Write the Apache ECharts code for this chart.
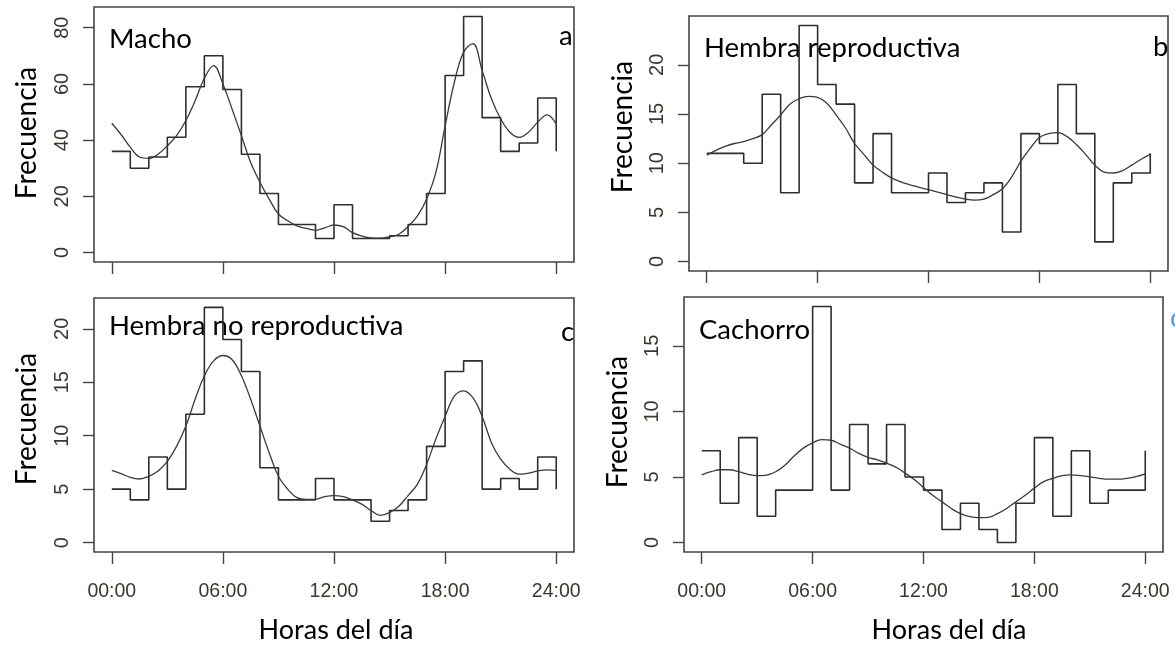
<!DOCTYPE html>
<html>
<head>
<meta charset="utf-8">
<script src="https://cdn.jsdelivr.net/npm/echarts@6/dist/echarts.min.js"></script>
<style>
html,body{margin:0;padding:0;background:#fff;}
#chart{width:1175px;height:649px;}
</style>
</head>
<body>
<div id="chart"></div>
<script>
// ---- Data ----
const stepHours = [0,1,2,3,4,5,6,7,8,9,10,11,12,13,14,15,16,17,18,19,20,21,22,23,24];
// hourly frequencies (last value = closing point drawn at 24:00)
const machoCounts      = [36,30,34,41,59,70,58,35,21,10,10,5,17,5,5,6,10,21,63,84,48,36,39,55,36];
const hembraRepCounts  = [11,11,10,17,7,24,18,16,8,13,7,7,9,6,7,8,3,13,12,18,13,2,8,9,11];
const hembraNoRepCounts= [5,4,8,5,12,22,19,16,7,4,4,6,4,4,2,3,4,9,16,17,5,6,5,8,5];
const cachorroCounts   = [7,3,8,2,4,4,18,4,9,6,9,5,4,1,3,1,0,3,8,2,7,3,4,4,7];

const curveHours = [0,0.5,1,1.5,2,2.5,3,3.5,4,4.5,5,5.5,6,6.5,7,7.5,8,8.5,9,9.5,10,10.5,11,11.5,12,12.5,13,13.5,14,14.5,15,15.5,16,16.5,17,17.5,18,18.5,19,19.5,20,20.5,21,21.5,22,22.5,23,23.5,24];
const machoCurve = [46,42,37.5,34,33.5,35,38,41.6,47,54,62,66.5,60,51,41.6,32,25,19,13.7,11.3,9.5,8.6,7.9,8.8,9.8,9.2,7.1,5.9,5.2,5.1,5.6,6.5,9.3,13,19,28.5,45,60.6,71.3,74.3,64.8,54.7,47.6,42.8,41,42.8,46.4,49,45.8];
const hembraRepCurve = [10.8,11.3,11.7,12,12.2,12.5,12.9,13.9,14.9,16,16.55,16.8,16.7,16.1,14.9,13.6,12,10.9,9.8,9.1,8.5,8.1,7.8,7.55,7.3,7.05,6.8,6.55,6.35,6.25,6.35,6.8,7.4,8.6,10.2,11.5,12.6,13,13.1,12.7,11.9,10.9,9.8,9.1,9.0,9.25,9.8,10.4,10.9];
const hembraNoRepCurve = [6.76,6.45,6.1,5.95,6.2,6.7,7.6,9,10.9,13.4,15.6,17,17.5,17.1,15.6,13.4,10.9,8.4,6.2,5,4.2,4.05,4.05,4.3,4.4,4.3,4.0,3.6,3.0,2.55,2.8,3.4,4.4,5.45,7.3,9.7,11.8,13.7,14.2,13.55,11.8,9.35,7.8,6.85,6.4,6.5,6.7,6.8,6.76];
const cachorroCurve = [5.16,5.4,5.55,5.55,5.4,5.2,5.1,5.14,5.4,5.9,6.6,7.2,7.6,7.85,7.8,7.5,7.2,6.8,6.5,6.3,6.05,5.75,5.3,4.8,4.2,3.6,3.1,2.6,2.2,1.97,1.9,1.92,2.2,2.6,3.1,3.6,4.15,4.65,4.9,5.1,5.16,5.1,5.0,4.9,4.83,4.83,4.9,5.03,5.24];

const xTicks = [0,6,12,18,24];
const xTickLabels = ['00:00','06:00','12:00','18:00','24:00'];
const yTicksA = [0,20,40,60,80];
const yTicksB = [0,5,10,15,20];
const yTicksC = [0,5,10,15,20];
const yTicksD = [0,5,10,15];

const panelNames = ['Macho','Hembra reproductiva','Hembra no reproductiva','Cachorro'];
const panelLetters = ['a','b','c','d'];
const yTitle = 'Frecuencia';
const xTitle = 'Horas del día';

// ---- Layout / style ----
const grids = [
  {left:94, top:7, width:480, height:255},
  {left:689, top:16, width:479, height:255},
  {left:94, top:298, width:480, height:254},
  {left:684, top:297, width:479, height:255}
];
const yRanges = [[-3.36,87.36],[-0.96,24.96],[-0.88,22.88],[-0.72,18.72]];
const yTickSets = [yTicksA,yTicksB,yTicksC,yTicksD];
const stepSets = [machoCounts,hembraRepCounts,hembraNoRepCounts,cachorroCounts];
const curveSets = [machoCurve,hembraRepCurve,hembraNoRepCurve,cachorroCurve];

const tickFont = "'Liberation Sans Narrow','Liberation Sans',sans-serif";
const tickColor = '#3d362e';
const lineColor = '#2e2e2e';

const xAxes = grids.map((g,i)=>({
  type:'value', gridIndex:i, min:-0.96, max:24.96, position:'bottom',
  axisLine:{show:false, onZero:false},
  splitLine:{show:false},
  axisTick:{show:true, inside:false, length:12, customValues:xTicks, lineStyle:{color:'#444',width:1.4}},
  axisLabel:{show:i>=2, customValues:xTicks, margin:30, fontFamily:tickFont, fontSize:19.5, color:tickColor,
    formatter:(v)=>xTickLabels[xTicks.indexOf(v)]}
}));
const yAxes = grids.map((g,i)=>({
  type:'value', gridIndex:i, min:yRanges[i][0], max:yRanges[i][1], position:'left',
  axisLine:{show:false, onZero:false},
  splitLine:{show:false},
  axisTick:{show:true, inside:false, length:11, customValues:yTickSets[i], lineStyle:{color:'#444',width:1.4}},
  axisLabel:{show:true, customValues:yTickSets[i], rotate:90, margin:22, fontFamily:tickFont, fontSize:20, color:tickColor,
    formatter:(v)=>String(v)}
}));

const series = [];
for(let i=0;i<4;i++){
  series.push({
    type:'line', xAxisIndex:i, yAxisIndex:i, step:'end', symbol:'none', silent:true,
    data: stepHours.map((h,k)=>[h, stepSets[i][k]]),
    lineStyle:{color:lineColor, width:1.6}
  });
  series.push({
    type:'line', xAxisIndex:i, yAxisIndex:i, smooth:0.4, symbol:'none', silent:true,
    data: curveHours.map((h,k)=>[h, curveSets[i][k]]),
    lineStyle:{color:'#3a3a3a', width:1.3}
  });
}

const labelFont = "Lato, 'Open Sans', sans-serif";
function txt(x,y,s,color){
  return {type:'text', x:x, y:y, style:{text:s, font:"27.5px "+labelFont, fill:color||'#000', textVerticalAlign:'middle'}};
}
function vtxt(x,y,s){
  return {type:'text', x:x, y:y, rotation:Math.PI/2, style:{text:s, font:"28px "+labelFont, fill:'#000', textAlign:'center', textVerticalAlign:'middle'}};
}
function htxt(x,y,s){
  return {type:'text', x:x, y:y, style:{text:s, font:"27px "+labelFont, fill:'#000', textAlign:'center', textVerticalAlign:'middle'}};
}
const graphics = [
  txt(109,39,panelNames[0]),
  txt(559,36,panelLetters[0]),
  txt(704,48,panelNames[1]),
  txt(1153,47,panelLetters[1]),
  txt(109,326,panelNames[2]),
  txt(561,332,panelLetters[2]),
  txt(699,330,panelNames[3]),
  txt(1170,318,panelLetters[3],'#5b9bd5'),
  vtxt(27,133,yTitle),
  vtxt(27,419,yTitle),
  vtxt(623,127,yTitle),
  vtxt(618,422,yTitle),
  htxt(336,630,xTitle),
  htxt(949,630,xTitle)
];

const chart = echarts.init(document.getElementById('chart'), null, {renderer:'canvas'});
chart.setOption({
  animation:false,
  backgroundColor:'#fff',
  grid: grids.map(g=>Object.assign({show:true, borderColor:'#444', borderWidth:1.6, backgroundColor:'transparent'}, g)),
  xAxis:xAxes,
  yAxis:yAxes,
  series:series,
  graphic:graphics
});
</script>
</body>
</html>
